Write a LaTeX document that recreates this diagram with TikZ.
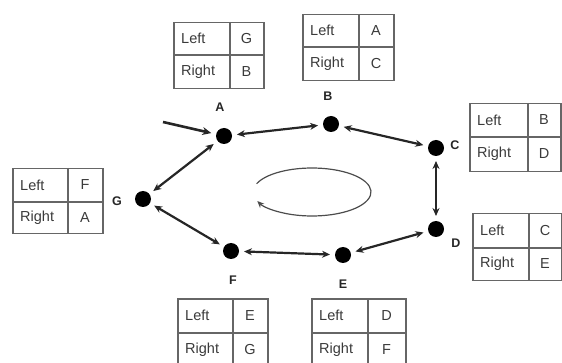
\documentclass[tikz,border=0pt]{standalone}
\usepackage{fontspec}
\setmainfont{Liberation Sans}
\usetikzlibrary{arrows.meta}
\definecolor{tabline}{HTML}{666666}
\definecolor{tabtext}{HTML}{3A3A3A}
\tikzset{
  dot/.style={circle,fill=black,inner sep=0pt,minimum size=16pt,outer sep=5pt},
  nodelabel/.style={font=\fontsize{12.5}{12.5}\selectfont\bfseries,text=black!85},
  link/.style={{Stealth[length=8pt,width=7pt]}-{Stealth[length=8pt,width=7pt]},line width=2.2pt,black!85},
  entry/.style={-{Stealth[length=9pt,width=8pt]},line width=2.6pt,black!85},
  tabframe/.style={draw=tabline,line width=1.5pt},
  tabtxt/.style={font=\fontsize{14.5}{14.5}\selectfont,text=tabtext,inner sep=0pt},
  cycle/.style={draw=black!70,line width=1.2pt}
}
% name, left, top, right, bottom, split x, mid y, left value, right value
\newcommand\navtab[9]{%
  \node[tabframe,inner sep=0pt,minimum width=#4pt-#2pt,minimum height=#5pt-#3pt,anchor=north west] (#1) at (#2,#3) {};
  \draw[tabframe] (#6,#3) -- (#6,#5);
  \draw[tabframe] (#2,#7) -- (#4,#7);
  \node[tabtxt,anchor=west] (#1l) at ({#2+8},{(#3+#7)/2}) {Left};
  \node[tabtxt,anchor=west] (#1r) at ({#2+8},{(#7+#5)/2}) {Right};
  \node[tabtxt] (#1lv) at ({(#6+#4)/2},{(#3+#7)/2}) {#8};
  \node[tabtxt] (#1rv) at ({(#6+#4)/2},{(#7+#5)/2}) {#9};
}
\begin{document}
\begin{tikzpicture}[x=1pt,y=-1pt]
\useasboundingbox (0,0) rectangle (562,363);
\begin{scope}
\clip (0,0) rectangle (562,363);
% dots
\node[dot] (A) at (224,136) {};
\node[dot] (B) at (331,124) {};
\node[dot] (C) at (436,148) {};
\node[dot] (D) at (436,229) {};
\node[dot] (E) at (343,255) {};
\node[dot] (F) at (231,251) {};
\node[dot] (G) at (143,199) {};
% labels
\node[nodelabel] (lA) at (220,107) {A};
\node[nodelabel] (lB) at (328,96) {B};
\node[nodelabel] (lC) at (455,145) {C};
\node[nodelabel] (lD) at (456,243) {D};
\node[nodelabel] (lE) at (343,284) {E};
\node[nodelabel] (lF) at (233,280) {F};
\node[nodelabel] (lG) at (117,201) {G};
% links
\draw[link] (A) -- (B);
\draw[link] (B) -- (C);
\draw[link] (C) -- (D);
\draw[link] (D) -- (E);
\draw[link] (E) -- (F);
\draw[link] (F) -- (G);
\draw[link] (G) -- (A);
% entry arrow
\coordinate (in) at (163,122);
\draw[entry] (in) -- (A);
% cycle ellipse
\coordinate (ec) at (312,192);
\draw[cycle,-{Stealth[length=7pt,width=6pt]}] (ec) ++(-160:59 and 24) arc[start angle=-160,end angle=158,x radius=59,y radius=24];
% tables
\navtab{tA}{173}{22}{263}{88}{230}{55}{G}{B}
\navtab{tB}{302}{14}{393}{80}{359}{47}{A}{C}
\navtab{tC}{469}{103}{560}{171}{528}{137}{B}{D}
\navtab{tD}{472}{213}{561}{280}{529}{248}{C}{E}
\navtab{tG}{12}{168}{102}{233}{68}{202}{F}{A}
\navtab{tF}{177}{298}{267}{366}{233}{333}{E}{G}
\navtab{tE}{311}{298}{405}{366}{368}{333}{D}{F}
\end{scope}
\end{tikzpicture}
\end{document}
